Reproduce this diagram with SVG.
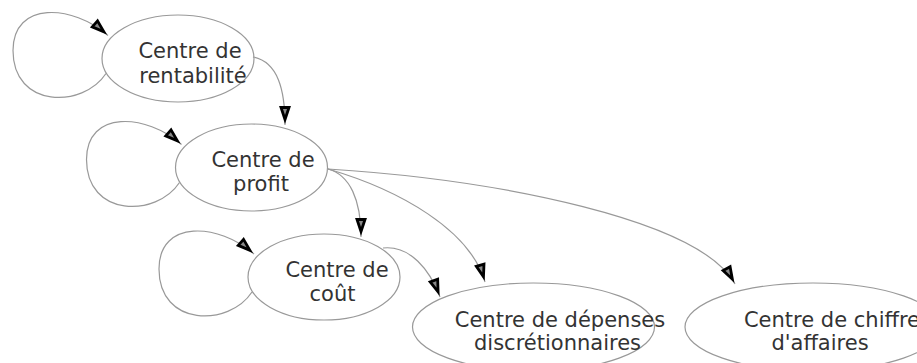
<svg xmlns="http://www.w3.org/2000/svg" width="917" height="363" viewBox="0 0 917 363">
<style>
.node ellipse{fill:#fff;stroke:#999;stroke-width:1.2}
.node text{font-family:"DejaVu Sans",sans-serif;font-size:21px;fill:#333;text-anchor:middle}
.edge{fill:none;stroke:#999;stroke-width:1.2;marker-end:url(#arr)}
</style>
<defs>
<marker id="arr" markerUnits="userSpaceOnUse" orient="auto" overflow="visible" refX="0" refY="0" markerWidth="20" markerHeight="20">
<path d="M-17.5,-4 L-5.5,0 L-17.5,4 Z" fill="#888" stroke="#000" stroke-width="2.8" stroke-linejoin="miter"/>
</marker>
</defs>
<rect width="917" height="363" fill="#fff"/>
<g id="n1" class="node"><ellipse cx="178" cy="58.5" rx="76" ry="43.5"/><text x="190" y="58">Centre de</text><text x="193" y="83">rentabilité</text></g>
<g id="n2" class="node"><ellipse cx="251.5" cy="167.5" rx="76" ry="43.5"/><text x="263" y="167">Centre de</text><text x="261" y="191">profit</text></g>
<g id="n3" class="node"><ellipse cx="324" cy="277" rx="76" ry="43"/><text x="337" y="277">Centre de</text><text x="332.5" y="301">coût</text></g>
<g id="n4" class="node"><ellipse cx="533.5" cy="327" rx="121" ry="44"/><text x="560" y="327">Centre de dépenses</text><text x="557.5" y="350">discrétionnaires</text></g>
<g id="n5" class="node"><ellipse cx="813" cy="327" rx="128" ry="44"/><text x="832" y="327">Centre de chiffre</text><text x="820" y="350">d'affaires</text></g>
<g id="connectors">
<path class="edge" transform="translate(178,58.5)" d="M-72,15 C-95,50 -165,50 -165,-8 C-165,-58 -105,-54 -70,-23"/>
<path class="edge" transform="translate(251.5,167.5)" d="M-72,15 C-95,50 -165,50 -165,-8 C-165,-58 -105,-54 -70,-23"/>
<path class="edge" transform="translate(324,277)" d="M-72,15 C-95,50 -165,50 -165,-8 C-165,-58 -105,-54 -70,-23"/>
<path class="edge" d="M253,57 C278,62 285,90 285,125"/>
<path class="edge" d="M328,169 C350,175 361,200 361,237"/>
<path class="edge" d="M328,169 C400,190 470,230 485,282"/>
<path class="edge" d="M328,169 C500,180 700,220 735,284"/>
<path class="edge" d="M383,248 C410,245 430,270 440,297"/>
</g>
</svg>
